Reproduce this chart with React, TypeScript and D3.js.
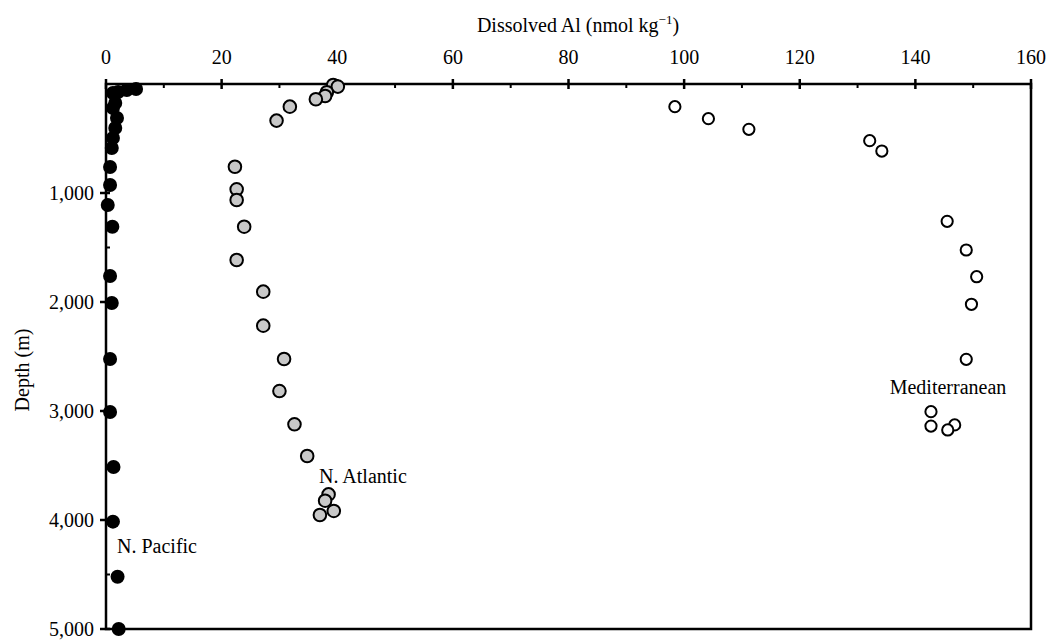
import React from "react";
import * as d3 from "d3";

// N. Pacific (filled black)
const pacificAl = [5.2, 3.6, 2.1, 1.2, 1.6, 1.2, 1.9, 1.6, 1.2, 1.0, 0.7, 0.7, 0.3, 1.1, 0.7, 1.0, 0.7, 0.7, 1.3, 1.2, 2.0, 2.2];
const pacificDepth = [46, 55, 73, 83, 174, 220, 312, 404, 495, 587, 761, 927, 1110, 1309, 1761, 2009, 2523, 3009, 3514, 4015, 4520, 5000];

// N. Atlantic (grey)
const atlanticAl = [39.3, 40.1, 38.2, 37.9, 36.3, 31.8, 29.5, 22.3, 22.6, 22.6, 23.9, 22.6, 27.2, 27.2, 30.8, 30.0, 32.6, 34.8, 38.5, 37.9, 37.0, 39.4];
const atlanticDepth = [9, 24, 76, 110, 140, 208, 336, 759, 966, 1064, 1309, 1615, 1905, 2217, 2523, 2817, 3122, 3413, 3765, 3823, 3954, 3917];

// Mediterranean (open)
const medAl = [98.4, 104.2, 111.2, 132.1, 134.2, 145.5, 148.8, 150.6, 149.7, 148.8, 142.7, 142.7, 146.8, 145.6];
const medDepth = [208, 318, 416, 520, 615, 1260, 1523, 1768, 2021, 2526, 3006, 3138, 3128, 3174];

const xTicks = [0, 20, 40, 60, 80, 100, 120, 140, 160];
const xMinor = [10, 30, 50, 70, 90, 110, 130, 150];
const yTicks = [1000, 2000, 3000, 4000, 5000];
const yMinor = [500, 1500, 2500, 3500, 4500];

const font = "'Liberation Serif', 'Times New Roman', serif";

export default function App() {
  const left = 106, right = 1031, top = 84, bottom = 629;
  const x = d3.scaleLinear().domain([0, 160]).range([left, right]);
  const y = d3.scaleLinear().domain([0, 5000]).range([top, bottom]);
  const fmt = d3.format(",");

  const pts = (xs: number[], ys: number[]) => xs.map((v, i) => ({ v, d: ys[i] }));

  return (
    <svg width={1053} height={640} style={{ position: "absolute", left: 0, top: 0, background: "#fff" }}
      fontFamily={font}>
      {/* frame */}
      <rect x={left} y={top} width={right - left} height={bottom - top} fill="none" stroke="#000" strokeWidth={2.5} />
      {/* x ticks */}
      {xTicks.map(t => (
        <g key={"xt" + t}>
          <line x1={x(t)} x2={x(t)} y1={top - 5} y2={top + 5} stroke="#000" strokeWidth={2.5} />
          <text x={x(t)} y={64} fontSize={20} textAnchor="middle">{t}</text>
        </g>
      ))}
      {xMinor.map(t => (
        <line key={"xm" + t} x1={x(t)} x2={x(t)} y1={top} y2={top + 4} stroke="#000" strokeWidth={2} />
      ))}
      {/* y ticks */}
      {yTicks.map(t => (
        <g key={"yt" + t}>
          <line x1={left - 6} x2={left + 4} y1={y(t)} y2={y(t)} stroke="#000" strokeWidth={2.5} />
          <text x={94} y={y(t) + 7} fontSize={20} textAnchor="end">{fmt(t)}</text>
        </g>
      ))}
      {yMinor.map(t => (
        <line key={"ym" + t} x1={left} x2={left + 4} y1={y(t)} y2={y(t)} stroke="#000" strokeWidth={2} />
      ))}
      {/* titles */}
      <text x={578} y={32} fontSize={20} textAnchor="middle">
        Dissolved Al (nmol kg<tspan dy={-8} fontSize={13}>−1</tspan><tspan dy={8}>)</tspan>
      </text>
      <text transform={`translate(29, ${370}) rotate(-90)`} fontSize={20} textAnchor="middle">Depth (m)</text>

      {/* Mediterranean */}
      {pts(medAl, medDepth).map((p, i) => (
        <circle key={"m" + i} cx={x(p.v)} cy={y(p.d)} r={5.6} fill="#fff" stroke="#000" strokeWidth={2} />
      ))}
      {/* N. Atlantic */}
      {pts(atlanticAl, atlanticDepth).map((p, i) => (
        <circle key={"a" + i} cx={x(p.v)} cy={y(p.d)} r={6.3} fill="#c8c8c8" stroke="#000" strokeWidth={2} />
      ))}
      {/* N. Pacific */}
      {pts(pacificAl, pacificDepth).map((p, i) => (
        <circle key={"p" + i} cx={x(p.v)} cy={y(p.d)} r={7} fill="#000" />
      ))}

      <text x={948} y={394} fontSize={20} textAnchor="middle">Mediterranean</text>
      <text x={319} y={483} fontSize={20}>N. Atlantic</text>
      <text x={117} y={553} fontSize={20}>N. Pacific</text>
    </svg>
  );
}
